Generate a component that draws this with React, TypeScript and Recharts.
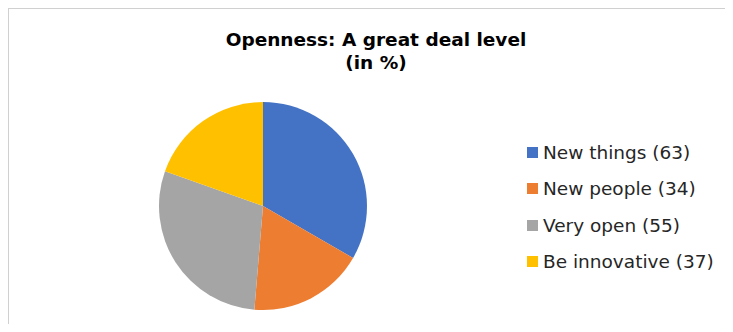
import { PieChart, Pie, Cell, Legend } from 'recharts';

const categories = ['New things', 'New people', 'Very open', 'Be innovative'];
const values = [63, 34, 55, 37];
const colors = ['#4472C4', '#ED7D31', '#A5A5A5', '#FFC000'];

const data = categories.map((name, i) => ({ name: `${name} (${values[i]})`, value: values[i] }));

// keep the legend in data order (recharts sorts the payload by name)
const renderLegend = () => (
  <div>
    {data.map((entry, i) => (
      <div key={i} style={{ display: 'flex', alignItems: 'center', height: 36.5 }}>
        <span style={{ width: 11, height: 11, background: colors[i], marginRight: 5, display: 'inline-block' }} />
        <span style={{ fontSize: 18.5, color: '#262626', whiteSpace: 'nowrap' }}>{entry.name}</span>
      </div>
    ))}
  </div>
);

export default function App() {
  return (
    <div
      style={{
        position: 'relative',
        width: 724,
        height: 323,
        marginBottom: -8,
        overflow: 'hidden',
        borderLeft: '1px solid #d0d0d0',
        borderTop: '1px solid #d0d0d0',
        fontFamily: '"DejaVu Sans", Verdana, sans-serif',
        background: '#fff',
      }}
    >
      <div
        style={{
          position: 'absolute',
          left: 0,
          width: 734,
          top: 19,
          textAlign: 'center',
          fontWeight: 'bold',
          fontSize: 18.5,
          lineHeight: '23px',
          color: '#000',
        }}
      >
        Openness: A great deal level
        <br />
        (in %)
      </div>
      <PieChart width={724} height={323} margin={{ top: 0, right: 0, bottom: 0, left: 0 }}>
        <Pie
          data={data}
          dataKey="value"
          nameKey="name"
          cx={254}
          cy={197}
          outerRadius={104}
          startAngle={90}
          endAngle={-270}
          stroke="none"
          isAnimationActive={false}
        >
          {data.map((_, i) => (
            <Cell key={i} fill={colors[i]} />
          ))}
        </Pie>
        <Legend
          layout="vertical"
          content={renderLegend}
          wrapperStyle={{ position: 'absolute', left: 518, top: 125, width: 205 }}
        />
      </PieChart>
    </div>
  );
}
